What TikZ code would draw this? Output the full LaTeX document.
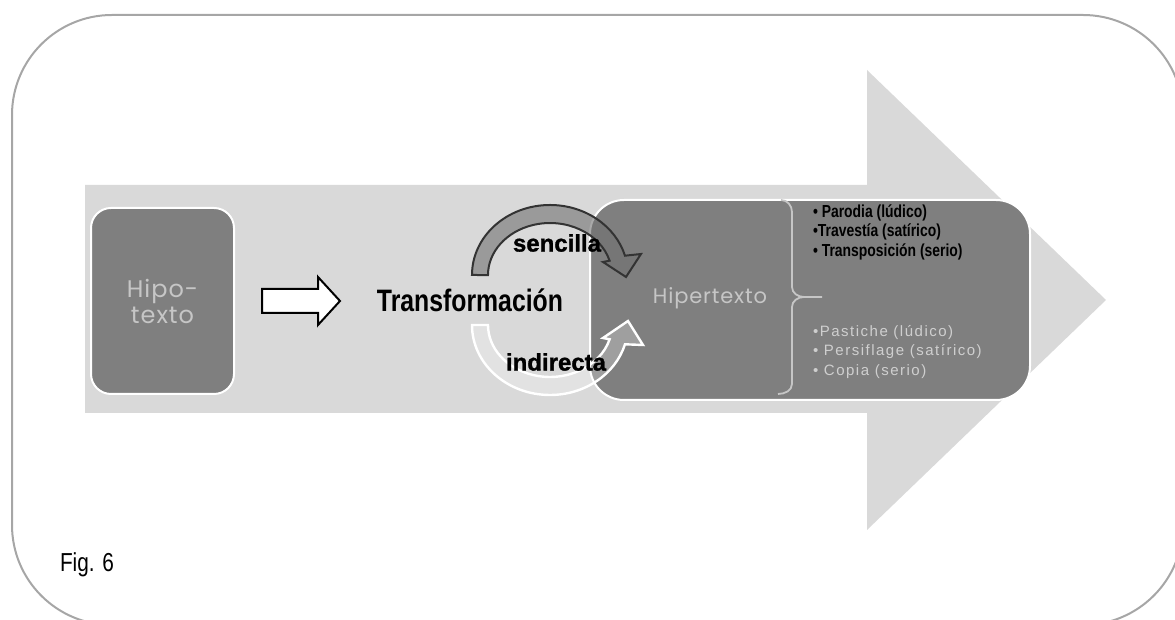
\documentclass[tikz,border=0pt]{standalone}
\usepackage{fontspec}
\setmainfont{Liberation Sans}
\newfontfamily\narrowfont[FakeStretch=0.8]{Liberation Sans}
\newfontfamily\spacedfont[LetterSpace=10]{Liberation Sans}
\newfontfamily\heavyfont[FakeBold=1.2]{Liberation Sans}
\newfontfamily\roundfont[LetterSpace=4]{Poppins}
\definecolor{framegray}{HTML}{A6A6A6}
\definecolor{shaftgray}{HTML}{D9D9D9}
\definecolor{boxgray}{HTML}{7F7F7F}
\definecolor{softtext}{HTML}{C6C6C6}
\tikzset{
	box/.style={fill=boxgray, draw=white, line width=1pt},
	senc/.style={fill=black!56, fill opacity=0.6, draw=black!80, line width=1pt},
	indir/.style={fill=white, fill opacity=0.25, draw=white, line width=1.2pt},
	braceline/.style={draw=softtext, line width=0.9pt},
	upperlist/.style={anchor=west, align=left, font=\narrowfont\bfseries\fontsize{8.7}{9.75}\selectfont},
	lowerlist/.style={anchor=west, align=left, text=softtext!85!white, font=\spacedfont\fontsize{7.5}{9.75}\selectfont}
}
\begin{document}
\begin{tikzpicture}[x=0.5pt,y=0.5pt]
		\useasboundingbox (0,0) rectangle (1175,620);
		\clip (0,0) rectangle (1175,620);
		\draw[framegray, line width=1pt, rounded corners=50pt] (12,-5) rectangle (1183,605);
		% big arrow
		\fill[shaftgray] (85,207)--(867,207)--(867,90)--(1106,320)--(867,550)--(867,435)--(85,435)--cycle;
		% boxes
		\node[box, rounded corners=10pt, minimum width=71.5pt, minimum height=93pt] (hipo) at (162.5,319) {};
		\node[box, rounded corners=17pt, minimum width=220pt, minimum height=100pt] (hiper) at (810,320) {};
		\node[text=softtext, align=center, font=\roundfont\fontsize{12}{13}\selectfont] (hipolabel) at (hipo) {Hipo-\\texto};
		\node[text=softtext, font=\roundfont\fontsize{10.5}{13}\selectfont] (hiperlabel) at (710,322) {Hipertexto};
		% hollow arrow
		\draw[fill=white, line width=1pt] (262,307)--(318,307)--(318,295)--(340,319)--(318,343)--(318,331)--(262,331)--cycle;
		\node[font=\narrowfont\bfseries\fontsize{15.5}{18}\selectfont] (transf) at (470,320) {Transformación};
		% curved arrows
		\draw[senc] (472,345) arc[start angle=180, end angle=16, x radius=39pt, y radius=35pt] -- (641,366) -- (626,343) -- (603,358) -- (609.6,359.3) arc[start angle=16, end angle=180, x radius=31pt, y radius=26pt] -- cycle;
		\draw[indir] (472,295) arc[start angle=180, end angle=344, x radius=39pt, y radius=35pt] -- (643,275) -- (628,299) -- (603,282) -- (609.6,280.7) arc[start angle=344, end angle=180, x radius=31pt, y radius=26pt] -- cycle;
		\node[font=\heavyfont\bfseries\fontsize{12}{14}\selectfont] (sencilla) at (557,377) {sencilla};
		\node[font=\heavyfont\bfseries\fontsize{12}{14}\selectfont] (indirecta) at (556,258) {indirecta};
		% brace
		\draw[braceline] (781,420) to[out=0,in=90] (792,408) -- (792,333) to[out=270,in=180] (804,323) -- (822,323);
		\draw[braceline] (804,323) to[out=180,in=90] (792,313) -- (792,236) to[out=270,in=0] (778,226);
		\node[upperlist] (parodias) at (806,388) {• Parodia (lúdico)\\•Travestía (satírico)\\• Transposición (serio)};
		\node[lowerlist] (pastiches) at (806,268) {•Pastiche (lúdico)\\• Persiflage (satírico)\\• Copia (serio)};
		\node[font=\narrowfont\fontsize{13}{15}\selectfont] (fig) at (87,55) {Fig. 6};
	\end{tikzpicture}
\end{document}
